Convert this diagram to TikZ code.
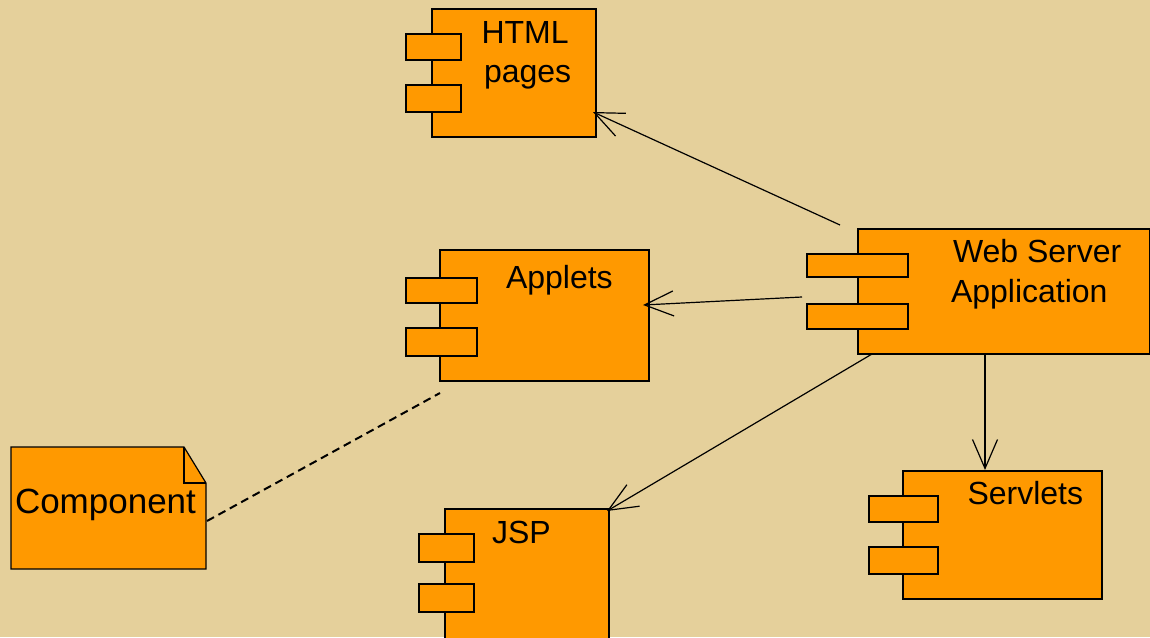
\documentclass[tikz,border=0pt]{standalone}
\usepackage{fontspec}
\setmainfont{Liberation Sans}
\usetikzlibrary{arrows.meta,calc}
\definecolor{comporange}{HTML}{FF9900}
\definecolor{bgtan}{HTML}{E5D09B}
\tikzset{
  box/.style={draw=black, fill=comporange, line width=1.2pt, inner sep=0pt, outer sep=0pt, anchor=north west},
  thickbox/.style={box, line width=2.4pt},
  lbl/.style={font=\fontsize{32}{38}\selectfont, anchor=base west, inner sep=0pt, outer sep=0pt},
  dep/.style={-{Straight Barb[length=29pt,width=25pt]}, line width=1.2pt},
  dashline/.style={line width=2pt, dash pattern=on 8pt off 5pt},
}
\begin{document}
\begin{tikzpicture}[x=1pt,y=-1pt]
\fill[bgtan] (0,0) rectangle (1150,637);
\useasboundingbox (0,0) rectangle (1150,637);

% HTML pages
\node[box, minimum width=164pt, minimum height=128pt] (html) at (432,9) {};
\node[box, minimum width=55pt, minimum height=26pt] (htmlp1) at (406,34) {};
\node[box, minimum width=55pt, minimum height=27pt] (htmlp2) at (406,85) {};
\node[lbl] (thtml1) at (481.5,43) {HTML};
\node[lbl] (thtml2) at (484,82) {pages};

% Applets
\node[box, minimum width=209pt, minimum height=131pt] (applets) at (440,250) {};
\node[box, minimum width=71pt, minimum height=25pt] (appp1) at (406,278) {};
\node[box, minimum width=71pt, minimum height=28pt] (appp2) at (406,328) {};
\node[lbl] (tapp) at (506,288) {Applets};

% Web Server Application
\node[thickbox, minimum width=292pt, minimum height=125pt] (ws) at (858,229) {};
\node[thickbox, minimum width=101pt, minimum height=23pt] (wsp1) at (807,254) {};
\node[thickbox, minimum width=101pt, minimum height=25pt] (wsp2) at (807,304) {};
\node[lbl] (tws1) at (953,262) {Web Server};
\node[lbl] (tws2) at (951,302) {Application};

% Servlets
\node[box, minimum width=199pt, minimum height=128pt] (servlets) at (903,471) {};
\node[box, minimum width=69pt, minimum height=26pt] (srvp1) at (869,496) {};
\node[box, minimum width=69pt, minimum height=27pt] (srvp2) at (869,547) {};
\node[lbl] (tsrv) at (967.5,504) {Servlets};

% JSP
\node[box, minimum width=164pt, minimum height=140pt] (jsp) at (445,509) {};
\node[box, minimum width=55pt, minimum height=28pt] (jspp1) at (419,534) {};
\node[box, minimum width=55pt, minimum height=28pt] (jspp2) at (419,584) {};
\node[lbl] (tjsp) at (492,543) {JSP};

% Component note
\node[inner sep=0pt, outer sep=0pt, minimum width=195pt, minimum height=122pt, anchor=north west] (note) at (11,447) {};
\draw[fill=comporange, line width=1.2pt]
  (note.north west) -- ($(note.north east)+(-22,0)$) -- ($(note.north east)+(0,36)$)
  -- (note.south east) -- (note.south west) -- cycle;
\draw[line width=1.2pt] ($(note.north east)+(-22,0)$) |- ($(note.north east)+(0,36)$);
\node[lbl, font=\fontsize{35}{40}\selectfont] (tnote) at (15,513) {Component};

% connectors
\coordinate (s1) at (840,225);
\coordinate (s2) at (802,297);
\draw[dep] (s1) -- ($(html.north east)+(-3,103)$);
\draw[dep] (s2) -- ($(applets.north east)+(-6,55)$);
\draw[dep] ($(ws.south west)+(14,0)$) -- ($(jsp.north east)+(-2,2)$);
\draw[dep] ($(ws.south west)+(127,0)$) -- ($(servlets.north west)+(82,-1)$);
\draw[dashline] ($(note.north east)+(1,74)$) -- ($(applets.south west)+(0,12)$);
\end{tikzpicture}
\end{document}
